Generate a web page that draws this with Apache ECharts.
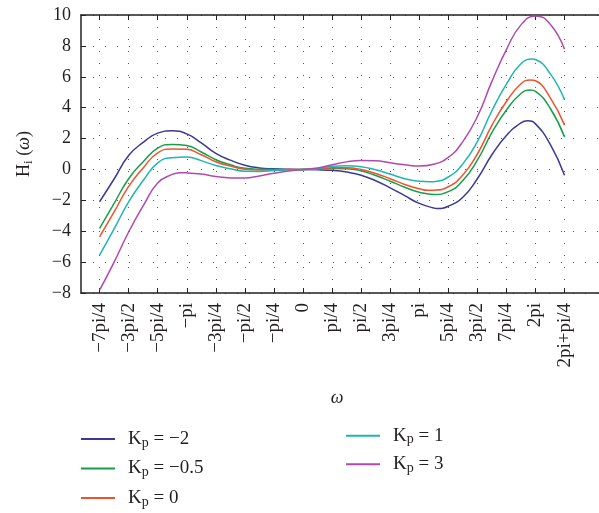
<!DOCTYPE html>
<html><head><meta charset="utf-8">
<script src="https://cdn.jsdelivr.net/npm/echarts@6/dist/echarts.min.js"></script>
<style>html,body{margin:0;padding:0;background:#fff}#c{width:599px;height:513px}</style>
</head><body><div id="c"></div>
<script>
// sample positions, in multiples of pi/8
const omegaSteps = [-14,-13,-12,-11,-10,-9,-8,-7,-6,-5,-4,-3,-2,-1,0,1,2,3,4,5,6,7,8,9,10,11,12,13,14,15,16,17,18];
const kpM2  = [-2.09,-0.62,0.9,1.75,2.35,2.5,2.3,1.72,1.04,0.6,0.27,0.1,0.04,0.01,0,-0.02,-0.06,-0.17,-0.37,-0.73,-1.19,-1.7,-2.2,-2.5,-2.38,-1.8,-0.6,0.95,2.2,3.02,2.95,1.65,-0.37];
const kpM05 = [-3.82,-2.2,-0.6,0.5,1.38,1.62,1.55,1.13,0.63,0.3,0.07,0.01,0.0,0.0,0,0.02,0.06,0.05,-0.09,-0.39,-0.76,-1.15,-1.47,-1.62,-1.44,-0.72,0.6,2.38,3.85,4.92,5.05,3.98,2.1];
const kp0   = [-4.36,-2.75,-1.1,0.1,1.08,1.33,1.3,0.95,0.5,0.22,0.02,-0.03,-0.03,-0.01,0,0.04,0.11,0.11,0.0,-0.26,-0.6,-0.97,-1.25,-1.34,-1.12,-0.36,1.0,2.85,4.4,5.55,5.74,4.67,2.87];
const kp1   = [-5.55,-3.85,-2.1,-0.72,0.43,0.76,0.8,0.57,0.25,0.04,-0.12,-0.13,-0.07,-0.03,0,0.06,0.2,0.24,0.18,-0.02,-0.3,-0.6,-0.77,-0.79,-0.49,0.36,1.8,3.8,5.52,6.84,7.12,6.22,4.52];
const kp3   = [-7.82,-6.0,-4.05,-2.36,-0.88,-0.32,-0.22,-0.3,-0.46,-0.55,-0.56,-0.42,-0.25,-0.1,0,0.1,0.3,0.49,0.58,0.56,0.43,0.3,0.22,0.34,0.78,1.8,3.42,5.7,7.76,9.36,9.94,9.42,7.78];
// extra read-off points at the turning points: [omega in pi/8 steps, value]
const kpM2Turns  = [[9.2,-2.53],[15.47,3.15]];
const kpM05Turns = [[15.65,5.14]];
const kp0Turns   = [[8.6,-1.35],[15.65,5.79]];
const kp1Turns   = [[8.73,-0.8],[15.8,7.15]];
const kp3Turns   = [[-8.46,-0.21]];
const seriesNames = ['Kp = −2','Kp = −0.5','Kp = 0','Kp = 1','Kp = 3'];
const legendTexts = ['K{sub|p} = −2','K{sub|p} = −0.5','K{sub|p} = 0','K{sub|p} = 1','K{sub|p} = 3'];
const colors = ['#3a3a96','#17a04b','#f0522e','#1fb5b0','#b14aae'];
// x ticks, in multiples of pi/4
const tickSteps = [-7,-6,-5,-4,-3,-2,-1,0,1,2,3,4,5,6,7,8,9];
const tickLabels = ['−7pi/4','−3pi/2','−5pi/4','−pi','−3pi/4','−pi/2','−pi/4','0','pi/4','pi/2','3pi/4','pi','5pi/4','3pi/2','7pi/4','2pi','2pi+pi/4'];

const allValues = [kpM2,kpM05,kp0,kp1,kp3];
const allTurns = [kpM2Turns,kpM05Turns,kp0Turns,kp1Turns,kp3Turns];
const tickVals = tickSteps.map(s => s*Math.PI/4);
const font = 'Liberation Serif';
const txt = '#231f20';

const chart = echarts.init(document.getElementById('c'), null, {renderer:'canvas'});
const series = allValues.map((vals,i) => {
  const pts = omegaSteps.map((s,j) => [s, vals[j]]).concat(allTurns[i]);
  pts.sort((a,b) => a[0]-b[0]);
  return {
    name: seriesNames[i], type:'line', smooth:0.5, symbol:'none',
    data: pts.map(p => [p[0]*Math.PI/8, p[1]]),
    lineStyle:{color:colors[i], width:1.5}, itemStyle:{color:colors[i]}
  };
});
const legendRich = {sub:{fontSize:14, fontFamily:font, color:txt, verticalAlign:'bottom', lineHeight:14}, g:{width:8}};
function legendFmt(name){ return '{g|}' + legendTexts[seriesNames.indexOf(name)]; }
const dotted = {type:[1,11], color:'#555', width:1};
chart.setOption({
  animation:false,
  backgroundColor:'#fff',
  color: colors,
  grid:{left:81, right:-10.6, top:15, bottom:220},
  legend:[
    {data:seriesNames.slice(0,3), orient:'vertical', left:81, top:428, padding:0, height:100, itemWidth:34, itemHeight:2, icon:'rect', itemGap:7.5,
     formatter:legendFmt, textStyle:{fontFamily:font, fontSize:19, color:txt, lineHeight:22, rich:legendRich}},
    {data:seriesNames.slice(3), orient:'vertical', left:346, top:424.7, padding:0, height:100, itemWidth:34, itemHeight:2, icon:'rect', itemGap:6.6,
     formatter:legendFmt, textStyle:{fontFamily:font, fontSize:19, color:txt, lineHeight:22, rich:legendRich}}
  ],
  xAxis:[{
    type:'value', min:-6, max:8, position:'bottom',
    name:'ω', nameLocation:'middle', nameGap:96,
    nameTextStyle:{fontFamily:font, fontSize:18, fontStyle:'italic', color:txt, padding:[0,6,0,0]},
    axisLine:{show:true, onZero:false, lineStyle:{color:'#222', width:1.5}},
    axisTick:{show:true, inside:true, length:5, customValues:tickVals, lineStyle:{color:'#222', width:1}},
    axisLabel:{show:true, customValues:tickVals, rotate:90, margin:10, fontFamily:font, fontSize:19, color:txt,
      formatter:v => tickLabels[tickSteps.indexOf(Math.round(v/(Math.PI/4)))]},
    splitLine:{show:true, lineStyle:dotted}
  },{
    type:'value', min:-6, max:8, position:'top',
    axisLine:{show:true, onZero:false, lineStyle:{color:'#222', width:1.5}},
    axisTick:{show:true, inside:true, length:5, customValues:tickVals, lineStyle:{color:'#222', width:1}},
    axisLabel:{show:false}, splitLine:{show:false}
  }],
  yAxis:{
    type:'value', min:-8, max:10, interval:2,
    name:'H{sub|i} ({it|ω})', nameLocation:'middle', nameGap:46,
    nameTextStyle:{fontFamily:font, fontSize:18, color:txt, lineHeight:22,
      rich:{sub:{fontFamily:font, fontSize:13, color:txt, verticalAlign:'bottom', lineHeight:14},
            it:{fontFamily:font, fontSize:18, fontStyle:'italic', color:txt, lineHeight:22}}},
    axisLine:{show:true, onZero:false, lineStyle:{color:'#222', width:1.5}},
    axisTick:{show:true, inside:true, length:5, lineStyle:{color:'#222', width:1}},
    axisLabel:{margin:10, fontFamily:font, fontSize:18, color:txt, formatter:v => String(v).replace('-', '−')},
    splitLine:{show:true, lineStyle:dotted}
  },
  series: series
});
</script></body></html>
